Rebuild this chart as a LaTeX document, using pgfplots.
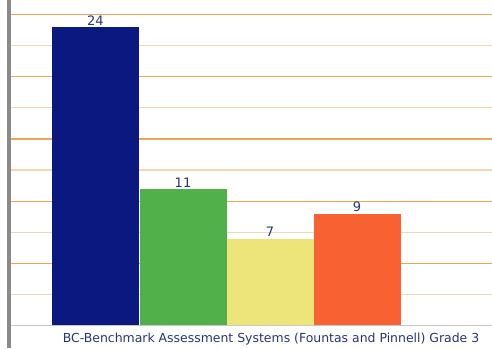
\documentclass[border=0pt]{standalone}
\usepackage{fontspec}
\setmainfont{DejaVu Sans}
\usepackage{pgfplots}
\pgfplotsset{compat=1.18}
\definecolor{navybar}{RGB}{10,24,128}
\definecolor{greenbar}{RGB}{82,176,74}
\definecolor{yellowbar}{RGB}{237,229,122}
\definecolor{orangebar}{RGB}{248,98,50}
\definecolor{labcol}{RGB}{40,52,120}
\definecolor{gridmaj}{RGB}{238,165,85}
\definecolor{gridmin}{RGB}{245,212,175}
\begin{document}
\begin{tikzpicture}
\begin{axis}[
  scale only axis,
  width=482pt, height=325.7pt,
  xmin=0, xmax=482, ymin=0, ymax=26.16,
  ybar, bar width=87, bar shift=0pt,
  ytick={5,10,...,25}, minor ytick={2.5,7.5,...,22.5},
  yticklabels={}, xtick=\empty,
  major tick length=0pt, minor tick length=0pt,
  ymajorgrids, yminorgrids,
  major grid style={draw=gridmaj, line width=1.3pt},
  minor grid style={draw=gridmin, line width=1.3pt},
  axis line style={draw=none},
  clip=false,
  /pgf/number format/assume math mode=true,
  nodes near coords,
  every node near coord/.append style={font=\fontsize{13}{15}\selectfont, text=labcol, inner sep=1.5pt},
  xlabel={BC-Benchmark Assessment Systems (Fountas and Pinnell) Grade 3},
  xlabel style={at={(axis cs:261,0)}, anchor=center, yshift=-13pt, font=\fontsize{12.45}{14}\selectfont, text=labcol},
]
\addplot[fill=navybar, draw=none] coordinates {(85.5,24)};
\addplot[fill=greenbar, draw=none] coordinates {(173,11)};
\addplot[fill=yellowbar, draw=none] coordinates {(260,7)};
\addplot[fill=orangebar, draw=none] coordinates {(347,9)};
\draw[color={rgb,255:red,200;green,200;blue,200}, line width=1.4pt] (axis cs:0,0) -- (axis cs:482,0);
\draw[color={rgb,255:red,138;green,138;blue,138}, line width=3.5pt] (axis cs:-1,26.16) -- (axis cs:-1,-1.8);
\coordinate (O) at (axis cs:0,0);
\end{axis}
\pgfresetboundingbox
\path (O) ++(-10pt,-22.3pt) rectangle ++(492pt,348pt);
\end{tikzpicture}
\end{document}
